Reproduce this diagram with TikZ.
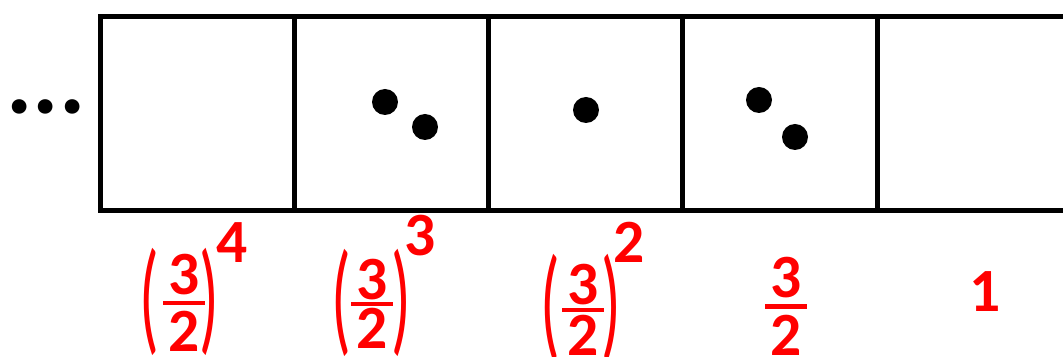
\documentclass[tikz,border=0pt]{standalone}
\usepackage{fontspec}
\setmainfont{Carlito}
\usetikzlibrary{positioning,calc}
\definecolor{lbl-red}{HTML}{FF0000}

\tikzset{
  cell/.style={draw, line width=0.1cm, minimum width=3.886cm, minimum height=3.89cm, inner sep=0pt, outer sep=0pt},
  pebble/.style={fill, circle, minimum size=0.52cm, inner sep=0pt},
  num/.style={text=lbl-red, font=\fontsize{35}{35}\selectfont\bfseries, inner sep=0pt},
  paren/.style={text=lbl-red, font=\fontsize{37}{37}\selectfont, inner sep=0pt},
  fracbar/.style={lbl-red, line width=0.09cm},
}

\begin{document}
\begin{tikzpicture}[x=0.02cm, y=-0.02cm]

    \useasboundingbox (0,0) rectangle (1063,357);

    % Row of cells
    \node[cell] (c1) at (197.15,113.25) {};
    \node[cell, right=0pt of c1] (c2) {};
    \node[cell, right=0pt of c2] (c3) {};
    \node[cell, right=0pt of c3] (c4) {};
    \node[cell, right=0pt of c4] (c5) {};

    % Ellipsis
    \node[inner sep=0pt, font=\fontsize{56}{56}\selectfont\bfseries] (more) at (46,107) {...};

    % Pebbles
    \node[pebble] (p1) at (385,102) {};
    \node[pebble] (p2) at (425,127) {};
    \node[pebble] (p3) at (586,110) {};
    \node[pebble] (p4) at (759,100) {};
    \node[pebble] (p5) at (795,137) {};

    % Weight (3/2)^4
    \node[num] (t1) at (184,275) {3};
    \node[num] (b1) at (184,331) {2};
    \coordinate (m1) at ($(t1.south)!.5!(b1.north)$);
    \draw[fracbar] ([xshift=-0.42cm]m1) -- ([xshift=0.42cm]m1);
    \node[paren] (lp1) at (149,302) {\scalebox{1}[1.9]{(}};
    \node[paren] (rp1) at (209,302) {\scalebox{1}[1.9]{)}};
    \node[num] (e1) at (232,243) {4};

    % Weight (3/2)^3
    \node[num] (t2) at (372,280) {3};
    \node[num] (b2) at (372,328) {2};
    \coordinate (m2) at ($(t2.south)!.5!(b2.north)$);
    \draw[fracbar] ([xshift=-0.42cm]m2) -- ([xshift=0.42cm]m2);
    \node[paren] (lp2) at (341,303) {\scalebox{1}[1.9]{(}};
    \node[paren] (rp2) at (401,303) {\scalebox{1}[1.9]{)}};
    \node[num] (e2) at (420,236) {3};

    % Weight (3/2)^2
    \node[num] (t3) at (583,285) {3};
    \node[num] (b3) at (583,335) {2};
    \coordinate (m3) at ($(t3.south)!.5!(b3.north)$);
    \draw[fracbar] ([xshift=-0.42cm]m3) -- ([xshift=0.42cm]m3);
    \node[paren] (lp3) at (550,308) {\scalebox{1}[1.9]{(}};
    \node[paren] (rp3) at (611,308) {\scalebox{1}[1.9]{)}};
    \node[num] (e3) at (629,242) {2};

    % Weight 3/2
    \node[num] (t4) at (786,278) {3};
    \node[num] (b4) at (786,335) {2};
    \coordinate (m4) at ($(t4.south)!.5!(b4.north)$);
    \draw[fracbar] ([xshift=-0.42cm]m4) -- ([xshift=0.42cm]m4);

    % Weight 1
    \node[num] (w5) at (985,292) {1};

\end{tikzpicture}
\end{document}
